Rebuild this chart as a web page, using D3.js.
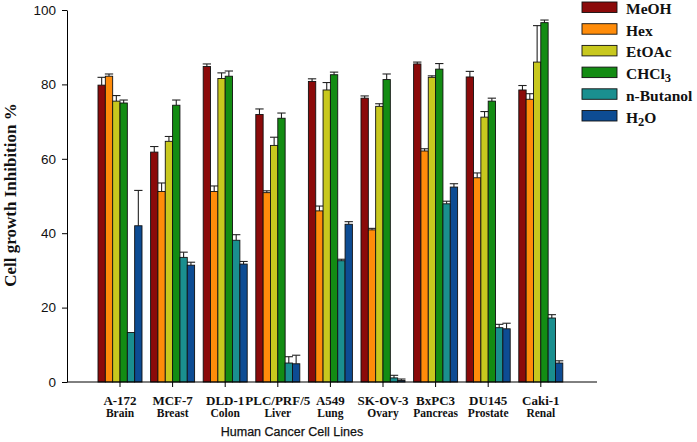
<!DOCTYPE html>
<html><head><meta charset="utf-8">
<script src="https://cdn.jsdelivr.net/npm/d3@7"></script>
<style>body{margin:0;background:#fff}svg{display:block}</style>
</head><body>
<script>
const categories = ["A-172","MCF-7","DLD-1","PLC/PRF/5","A549","SK-OV-3","BxPC3","DU145","Caki-1"];
const tissues = ["Brain","Breast","Colon","Liver","Lung","Ovary","Pancreas","Prostate","Renal"];
const series = ["MeOH","Hex","EtOAc","CHCl3","n-Butanol","H2O"];
const colors = ["#8b0a0a","#ff8c0a","#c8c81e","#138c13","#1a8f8f","#0d4c93"];
const MeOH   = [79.8, 61.8, 84.8, 71.9, 80.8, 76.3, 85.5, 82.0, 78.5];
const MeOHe  = [2.1, 1.5, 0.7, 1.5, 0.7, 0.6, 0.5, 1.5, 1.2];
const Hex    = [82.2, 51.2, 51.2, 50.9, 46.0, 40.9, 62.1, 54.9, 76.0];
const Hexe   = [0.6, 2.3, 1.5, 0.5, 1.3, 0.4, 0.6, 1.3, 1.5];
const EtOAc  = [75.5, 64.7, 81.6, 63.6, 78.5, 74.1, 81.9, 71.2, 86.0];
const EtOAce = [1.5, 1.3, 1.5, 2.2, 2.0, 0.7, 0.4, 1.5, 9.8];
const CHCl3  = [75.0, 74.4, 82.2, 70.9, 82.6, 81.3, 84.1, 75.5, 96.6];
const CHCl3e = [0.8, 1.4, 1.4, 1.4, 0.7, 1.5, 1.5, 0.8, 0.7];
const nBut   = [13.3, 33.5, 38.1, 5.1, 32.6, 1.1, 47.9, 14.6, 17.2];
const nBute  = [0, 1.4, 1.5, 1.7, 0.4, 0.7, 0.7, 0.9, 0.9];
const H2O    = [42.0, 31.4, 31.7, 4.9, 42.4, 0.4, 52.4, 14.3, 5.1];
const H2Oe   = [9.5, 0.8, 0.7, 2.3, 0.7, 0.4, 0.9, 1.5, 0.6];
const yTicks = [0, 20, 40, 60, 80, 100];

const values = [MeOH, Hex, EtOAc, CHCl3, nBut, H2O];
const errs = [MeOHe, Hexe, EtOAce, CHCl3e, nBute, H2Oe];

const W = 697, H = 442;
const svg = d3.select("body").append("svg").attr("width", W).attr("height", H);

const axL = 67, axR = 597, y0 = 382, y1 = 10;
const x = d3.scaleBand().domain(categories).range([93.7, 567.1]).padding(0);
const xi = d3.scaleBand().domain(series).range([0, 44]).padding(0);
const y = d3.scaleLinear().domain([0, 100]).range([y0, y1]);

const data = [];
categories.forEach((c, i) => series.forEach((s, j) => {
  data.push({c, s, j, v: values[j][i], e: errs[j][i]});
}));

const g = svg.append("g");
const barX = d => x(d.c) + x.bandwidth()/2 - 22 + xi(d.s);
const bw = xi.bandwidth();

const eb = g.selectAll("g.err").data(data.filter(d => d.e > 0)).join("g").attr("class","err")
  .attr("stroke","#222").attr("stroke-width",1.1);
eb.append("line").attr("x1", d => barX(d) + bw/2).attr("x2", d => barX(d) + bw/2)
  .attr("y1", d => y(d.v)).attr("y2", d => y(d.v + d.e));
eb.append("line").attr("x1", d => barX(d) - 0.5).attr("x2", d => barX(d) + bw + 0.5)
  .attr("y1", d => y(d.v + d.e)).attr("y2", d => y(d.v + d.e));

g.selectAll("rect.bar").data(data).join("rect").attr("class","bar")
  .attr("x", barX).attr("width", bw)
  .attr("y", d => y(d.v)).attr("height", d => y0 - y(d.v))
  .attr("fill", d => colors[d.j]).attr("stroke", "#111").attr("stroke-width", 0.9);

const yAxis = d3.axisLeft(y).tickValues(yTicks).tickSize(5).tickSizeOuter(0).tickPadding(6);
const ya = svg.append("g").attr("transform", `translate(${axL},0)`).call(yAxis);
ya.select(".domain").attr("stroke","#000");
ya.selectAll("text").attr("font-family","Liberation Sans, Arial, sans-serif").attr("font-size",13.5).attr("fill","#111");

svg.append("line").attr("x1", axL).attr("x2", axR).attr("y1", y0).attr("y2", y0).attr("stroke","#000");
const xa = svg.append("g").attr("transform", `translate(0,${y0})`);
xa.selectAll("line").data(categories).join("line")
  .attr("x1", d => x(d) + x.bandwidth()/2).attr("x2", d => x(d) + x.bandwidth()/2)
  .attr("y1", 0).attr("y2", 5).attr("stroke","#000");
const lab = xa.selectAll("g.lab").data(categories).join("g").attr("class","lab")
  .attr("transform", d => `translate(${x(d) + x.bandwidth()/2},0)`)
  .attr("font-family","Liberation Serif, Times New Roman, serif").attr("font-weight","bold")
  .attr("text-anchor","middle").attr("fill","#111");
lab.append("text").attr("y", 23).attr("font-size", 13).text(d => d);
lab.append("text").attr("y", 35).attr("font-size", 11.5).text((d, i) => tissues[i]);

svg.append("text").attr("transform", "translate(16,195) rotate(-90)")
  .attr("text-anchor","middle").attr("font-family","Liberation Serif, Times New Roman, serif")
  .attr("font-weight","bold").attr("font-size",17).attr("fill","#111")
  .text("Cell growth Inhibition %");
svg.append("text").attr("x", 292).attr("y", 436).attr("text-anchor","middle")
  .attr("font-family","Liberation Sans, Arial, sans-serif").attr("font-size",12.5).attr("fill","#111")
  .attr("stroke","#111").attr("stroke-width",0.25)
  .text("Human Cancer Cell Lines");

const lg = svg.append("g").selectAll("g").data(series).join("g")
  .attr("transform", (d, i) => `translate(582,${2 + i * 21.7})`);
lg.append("rect").attr("width", 35).attr("height", 10.5).attr("fill", (d, i) => colors[i])
  .attr("stroke","#111").attr("stroke-width",0.9);
const lt = lg.append("text").attr("x", 44).attr("y", 12)
  .attr("font-family","Liberation Serif, Times New Roman, serif").attr("font-weight","bold")
  .attr("font-size",15.5).attr("fill","#111");
lt.each(function(d) {
  const t = d3.select(this);
  if (d === "CHCl3") { t.append("tspan").text("CHCl"); t.append("tspan").attr("dy",3).attr("font-size",12.5).text("3"); }
  else if (d === "H2O") { t.append("tspan").text("H"); t.append("tspan").attr("dy",3).attr("font-size",12.5).text("2"); t.append("tspan").attr("dy",-3).text("O"); }
  else t.text(d);
});
</script>
</body></html>
